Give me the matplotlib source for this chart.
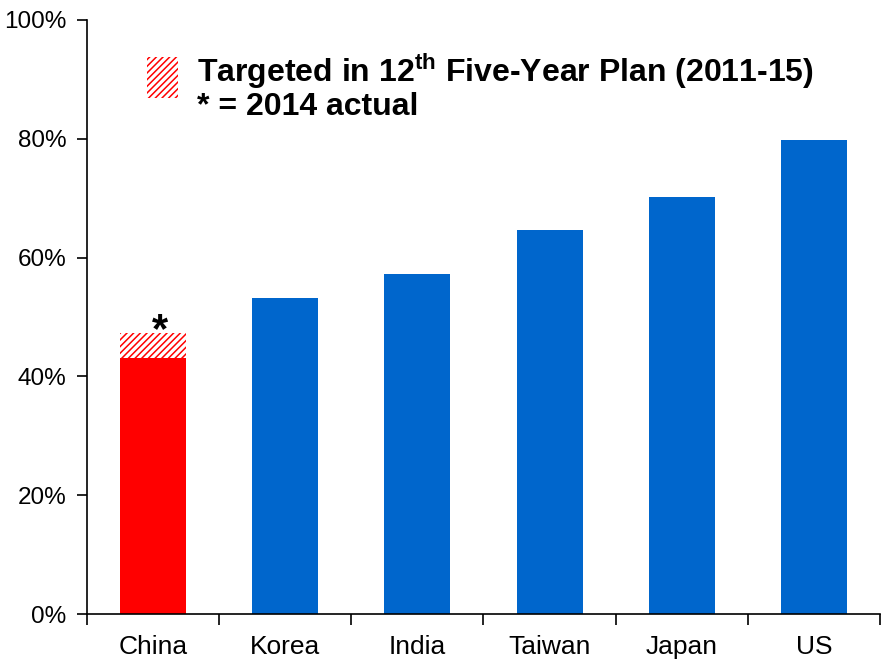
import matplotlib
matplotlib.use("Agg")
import matplotlib.pyplot as plt
from matplotlib.patches import Rectangle

plt.rcParams['font.family'] = ['Liberation Sans', 'DejaVu Sans']
plt.rcParams['mathtext.fontset'] = 'custom'
plt.rcParams['mathtext.rm'] = 'Liberation Sans'
plt.rcParams['mathtext.bf'] = 'Liberation Sans:bold'
plt.rcParams['hatch.linewidth'] = 1.1

categories = ["China", "Korea", "India", "Taiwan", "Japan", "US"]
actual = [43.1, 53.2, 57.2, 64.6, 70.2, 79.8]
china_target = 47.3
yticks = [0, 20, 40, 60, 80, 100]

RED = "#FF0000"
BLUE = "#0066CC"

fig = plt.figure(figsize=(8.81, 6.64), dpi=100)
ax = fig.add_axes([0.0988, 0.0753, 0.9, 0.8947])

x = list(range(len(categories)))
colors = [RED] + [BLUE] * (len(categories) - 1)
ax.bar(x, actual, width=0.5, color=colors, zorder=2)

# Hatched segment: gap between 2014 actual and the plan target
ax.bar(0, china_target - actual[0], bottom=actual[0], width=0.5,
       facecolor="white", edgecolor=RED, hatch="/////", linewidth=0, zorder=2)
ax.text(0.05, china_target - 3.0, "*", ha="center", va="bottom",
        fontsize=30, fontweight="bold")

ax.set_xlim(-0.5, len(categories) - 0.5)
ax.set_ylim(0, 100)
ax.set_yticks(yticks)
ax.set_yticklabels([f"{v}%" for v in yticks])

ax.set_xticks(x)
ax.set_xticklabels(categories)
ax.set_xticks([i - 0.5 for i in range(len(categories) + 1)], minor=True)
ax.tick_params(axis="x", which="major", length=0, pad=15, labelsize=19)
ax.tick_params(axis="x", which="minor", length=8, width=1.2, direction="out")
ax.tick_params(axis="y", length=7, width=1.2, direction="out", labelsize=17.5, pad=8)

for side in ["top", "right"]:
    ax.spines[side].set_visible(False)
for side in ["left", "bottom"]:
    ax.spines[side].set_linewidth(1.2)

# Legend key and notes
ax.add_patch(Rectangle((0.0755, 0.868), 0.039, 0.069, transform=ax.transAxes,
                       facecolor="white", edgecolor=RED, hatch="/////",
                       linewidth=0, clip_on=False))
ax.text(0.139, 0.914, r"Targeted in 12$^{\mathbf{th}}$ Five-Year Plan (2011-15)",
        transform=ax.transAxes, fontsize=23, fontweight="bold", va="center")
ax.text(0.139, 0.853, "* = 2014 actual", transform=ax.transAxes,
        fontsize=23, fontweight="bold", va="center")

fig.savefig("out.png", dpi=100)
